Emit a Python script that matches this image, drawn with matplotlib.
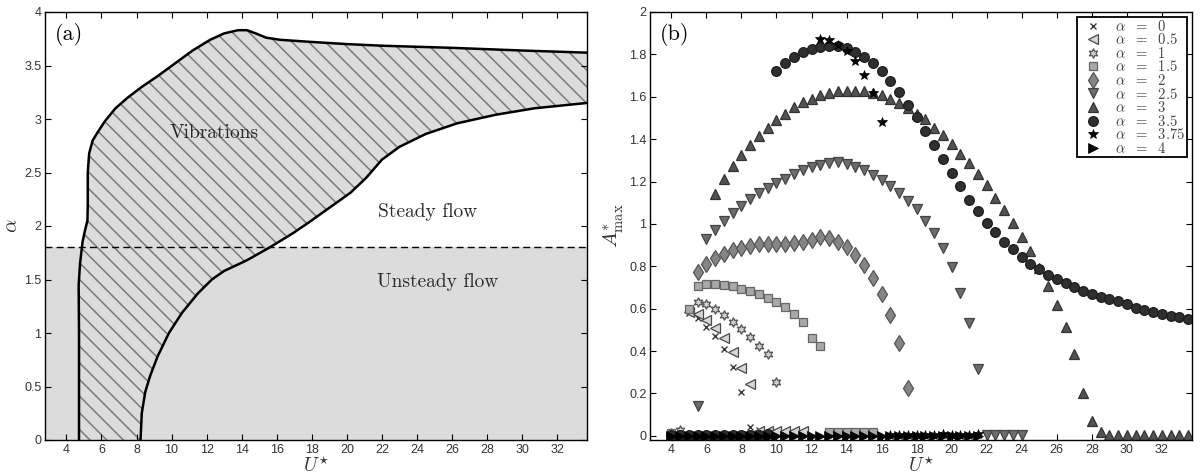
import numpy as np
import matplotlib
matplotlib.use('Agg')
from matplotlib import pyplot as plt
from matplotlib.ticker import FormatStrFormatter

plt.rcParams['mathtext.fontset'] = 'cm'
plt.rcParams['font.family'] = ['Liberation Sans', 'DejaVu Sans']
plt.rcParams['hatch.linewidth'] = 1.1

# ---------------- panel (a): stability map ----------------
# left / upper boundary of the vibration region (U*, alpha)
left_U = [4.72, 4.72, 4.70, 4.78, 4.92, 5.05, 5.20, 5.22, 5.22, 5.30, 5.50, 5.80,
          6.20, 6.80, 7.50, 8.30, 9.20, 10.2, 11.2, 12.2, 13.0, 13.8, 14.3, 14.8,
          15.4, 16.2, 18.0, 20.0, 22.0, 26.0, 30.0, 33.7]
left_a = [0.00, 1.00, 1.45, 1.65, 1.85, 1.95, 2.05, 2.20, 2.50, 2.68, 2.80, 2.88,
          2.98, 3.10, 3.20, 3.30, 3.40, 3.52, 3.64, 3.74, 3.80, 3.83, 3.83, 3.80,
          3.76, 3.74, 3.72, 3.70, 3.685, 3.665, 3.64, 3.62]
# right / lower boundary
right_U = [8.23, 8.30, 8.50, 8.78, 9.20, 9.85, 10.6, 11.5, 12.3, 13.0, 14.3, 15.6,
           16.9, 17.8, 19.0, 20.2, 21.1, 22.0, 23.0, 24.5, 26.3, 28.5, 30.7, 33.7]
right_a = [0.00, 0.25, 0.45, 0.60, 0.78, 1.00, 1.19, 1.37, 1.50, 1.58, 1.68, 1.80,
           1.93, 2.03, 2.17, 2.31, 2.45, 2.62, 2.74, 2.86, 2.96, 3.04, 3.10, 3.15]
alpha_crit = 1.8

# ---------------- panel (b): maximum amplitude ----------------
U0 = [5, 5.5, 6, 6.5, 7, 7.5, 8, 8.5, 9]
A0 = [0.578, 0.554, 0.515, 0.471, 0.41, 0.326, 0.208, 0.043, 0.028]
U05 = [5, 5.5, 6, 6.5, 7, 7.5, 8, 8.5, 9, 9.5, 10, 10.5, 11, 11.5]
A05 = [0.585, 0.576, 0.546, 0.507, 0.46, 0.397, 0.319, 0.245,
       0.022, 0.022, 0.022, 0.022, 0.022, 0.022]
U1 = [4, 4.5, 5.5, 6, 6.5, 7, 7.5, 8, 8.5, 9, 9.5, 10]
A1 = [0.012, 0.028, 0.632, 0.621, 0.60, 0.569, 0.538, 0.506, 0.467, 0.425, 0.384, 0.252]
U15 = [4, 5, 5.5, 6, 6.5, 7, 7.5, 8, 8.5, 9, 9.5, 10, 10.5, 11, 11.5, 12, 12.5,
       13, 13.5, 14, 14.5, 15, 15.5]
A15 = [0.015, 0.60, 0.706, 0.715, 0.715, 0.711, 0.706, 0.695, 0.682, 0.668, 0.651,
       0.632, 0.608, 0.577, 0.535, 0.462, 0.425,
       0.016, 0.016, 0.016, 0.016, 0.016, 0.016]
U2 = [5.5, 6, 6.5, 7, 7.5, 8, 8.5, 9, 9.5, 10, 10.5, 11, 11.5, 12, 12.5, 13, 13.5,
      14, 14.5, 15, 15.5, 16, 16.5, 17, 17.5]
A2 = [0.774, 0.813, 0.841, 0.86, 0.876, 0.887, 0.896, 0.903, 0.905, 0.905, 0.907,
      0.91, 0.915, 0.926, 0.936, 0.935, 0.915, 0.891, 0.852, 0.805, 0.745, 0.667,
      0.572, 0.44, 0.226]
U25 = [5.5, 6, 6.5, 7, 7.5, 8, 8.5, 9, 9.5, 10, 10.5, 11, 11.5, 12, 12.5, 13, 13.5,
       14, 14.5, 15, 15.5, 16, 16.5, 17, 17.5, 18, 18.5, 19, 19.5, 20, 20.5, 21, 21.5,
       22, 22.5, 23, 23.5, 24]
A25 = [0.142, 0.928, 0.97, 1.013, 1.053, 1.085, 1.116, 1.146, 1.17, 1.193, 1.214,
       1.236, 1.256, 1.269, 1.28, 1.287, 1.29, 1.283, 1.27, 1.253, 1.232, 1.208,
       1.18, 1.148, 1.11, 1.068, 1.015, 0.955, 0.885, 0.797, 0.676, 0.533, 0.313,
       0.004, 0.002, 0.002, 0.002, 0.002]
U3 = [6.5, 7, 7.5, 8, 8.5, 9, 9.5, 10, 10.5, 11, 11.5, 12, 12.5, 13, 13.5, 14, 14.5,
      15, 15.5, 16, 16.5, 17, 17.5, 18, 18.5, 19, 19.5, 20, 20.5, 21, 21.5, 22, 22.5,
      23, 23.5, 24, 24.5, 25, 25.5, 26, 26.5, 27, 27.5, 28, 28.5, 29, 29.5, 30, 30.5,
      31, 31.5, 32, 32.5, 33, 33.5]
A3 = [1.143, 1.214, 1.274, 1.324, 1.371, 1.413, 1.453, 1.489, 1.52, 1.55, 1.574,
      1.59, 1.607, 1.619, 1.627, 1.629, 1.629, 1.625, 1.617, 1.606, 1.59, 1.572,
      1.549, 1.517, 1.494, 1.453, 1.418, 1.376, 1.329, 1.285, 1.234, 1.182, 1.123,
      1.064, 1.002, 0.939, 0.873, 0.79, 0.706, 0.616, 0.514, 0.388, 0.204, 0.071,
      0.016, 0.004, 0.004, 0.004, 0.004, 0.004, 0.004, 0.004, 0.004, 0.004, 0.004]
U35 = [4, 4.5, 5, 5.5, 6, 6.5, 7, 7.5, 8, 8.5, 9, 9.5,
       10, 10.5, 11, 11.5, 12, 12.5, 13, 13.5, 14, 14.5, 15, 15.5, 16, 16.5, 17,
       17.5, 18, 18.5, 19, 19.5, 20, 20.5, 21, 21.5, 22, 22.5, 23, 23.5, 24, 24.5,
       25, 25.5, 26, 26.5, 27, 27.5, 28, 28.5, 29, 29.5, 30, 30.5, 31, 31.5, 32,
       32.5, 33, 33.5]
A35 = [0.002, 0.002, 0.002, 0.002, 0.002, 0.002, 0.002, 0.002, 0.002, 0.002, 0.004,
       0.006,
       1.72, 1.761, 1.788, 1.811, 1.827, 1.835, 1.84, 1.84, 1.83, 1.811, 1.787,
       1.758, 1.72, 1.673, 1.623, 1.563, 1.505, 1.437, 1.371, 1.305, 1.241, 1.179,
       1.115, 1.06, 1.006, 0.962, 0.915, 0.88, 0.844, 0.81, 0.785, 0.761, 0.742,
       0.723, 0.70, 0.684, 0.667, 0.656, 0.645, 0.635, 0.62, 0.605, 0.593, 0.582,
       0.574, 0.566, 0.561, 0.553]
U375 = [12.5, 13, 13.5, 14, 14.5, 15, 15.5, 16, 16.5, 17, 17.5, 18, 18.5, 19, 19.5,
        20, 20.5, 21, 21.5]
A375 = [1.874, 1.866, 1.846, 1.814, 1.769, 1.704, 1.619, 1.481, 0.003, 0.003, 0.003,
        0.003, 0.003, 0.003, 0.008, 0.003, 0.003, 0.003, 0.006]
U4 = [4, 4.5, 5, 5.5, 6, 6.5, 7, 7.5, 8, 8.5, 9, 9.5, 10, 10.5, 11, 11.5, 12, 12.5,
      13, 13.5, 14, 14.5, 15, 15.5, 16, 16.5, 17, 17.5, 18, 18.5, 19, 19.5, 20, 20.5,
      21, 21.5]
A4 = [0.0] * len(U4)

series = [
    (U0, A0, r'$\alpha\ \ =\ \ 0$', dict(marker='x', ms=5, mec='#3a3a3a', mfc='none', mew=1.0)),
    (U05, A05, r'$\alpha\ \ =\ \ 0.5$', dict(marker='<', ms=7, mec='#4a4a4a', mfc='#d6d6d6', mew=0.9)),
    (U1, A1, r'$\alpha\ \ =\ \ 1$', dict(marker=(6, 1, 0), ms=7, mec='#555555', mfc='#cfcfcf', mew=0.9)),
    (U15, A15, r'$\alpha\ \ =\ \ 1.5$', dict(marker='s', ms=6, mec='#666666', mfc='#a9a9a9', mew=0.9)),
    (U2, A2, r'$\alpha\ \ =\ \ 2$', dict(marker='d', ms=8, mec='#555555', mfc='#858585', mew=0.9)),
    (U25, A25, r'$\alpha\ \ =\ \ 2.5$', dict(marker='v', ms=7.5, mec='#444444', mfc='#6c6c6c', mew=0.9)),
    (U3, A3, r'$\alpha\ \ =\ \ 3$', dict(marker='^', ms=7.5, mec='#333333', mfc='#525252', mew=0.9)),
    (U35, A35, r'$\alpha\ \ =\ \ 3.5$', dict(marker='o', ms=7, mec='#1e1e1e', mfc='#2f2f2f', mew=0.9)),
    (U375, A375, r'$\alpha\ \ =\ \ 3.75$', dict(marker='*', ms=7, mec='black', mfc='black', mew=0.5)),
    (U4, A4, r'$\alpha\ \ =\ \ 4$', dict(marker='>', ms=6.5, mec='black', mfc='black', mew=0.5)),
]


def style_axes(ax):
    ax.tick_params(direction='in', top=True, right=True, length=4, width=0.8,
                   labelsize=9, labelcolor='#333333', pad=3)
    ax.tick_params(axis='y', pad=2.5)
    for s in ax.spines.values():
        s.set_linewidth(1.0)
        s.set_color('black')


fig = plt.figure(figsize=(12.03, 4.75), dpi=100)
W, H = 1203.0, 475.0
ax1 = fig.add_axes([45 / W, 35 / H, 542 / W, 428 / H])
ax2 = fig.add_axes([650 / W, 35 / H, 542 / W, 428 / H])

# panel (a)
xlim = (2.78, 33.7)
ax1.axhspan(0, alpha_crit, color='#dcdcdc', lw=0, zorder=0)
ax1.axhline(alpha_crit, color='black', lw=1.0, ls=(0, (5, 3)), zorder=3)
poly_U = list(left_U) + list(right_U[::-1])
poly_a = list(left_a) + list(right_a[::-1])
ax1.fill(poly_U, poly_a, facecolor='#dcdcdc', edgecolor='#7a7a7a', lw=0,
         hatch='\\\\', zorder=1)
ax1.plot(left_U, left_a, color='black', lw=1.8, zorder=4)
ax1.plot(right_U, right_a, color='black', lw=1.8, zorder=4)
tfont = dict(family='cmr10', size=14, color='#2a2a2a')
ax1.text(12.45, 2.87, 'Vibrations', ha='center', va='center', **tfont)
ax1.text(24.6, 2.13, 'Steady flow', ha='center', va='center', **tfont)
ax1.text(25.2, 1.48, 'Unsteady flow', ha='center', va='center', **tfont)
ax1.text(0.018, 0.975, '(a)', transform=ax1.transAxes, ha='left', va='top',
         family='cmr10', size=16)
ax1.set_xlim(xlim)
ax1.set_ylim(0, 4)
ax1.set_xticks(np.arange(4, 33, 2))
ax1.set_yticks(np.arange(0, 4.01, 0.5))
ax1.yaxis.set_major_formatter(FormatStrFormatter('%g'))
ax1.set_xlabel(r'$U^{\star}$', fontsize=14, labelpad=0, color='#333333')
ax1.set_ylabel(r'$\alpha$', fontsize=15, labelpad=2, color='#333333')
style_axes(ax1)

# panel (b)
for U, A, lab, kw in series:
    ax2.plot(U, A, ls='none', label=lab, **kw)
ax2.text(0.018, 0.975, '(b)', transform=ax2.transAxes, ha='left', va='top',
         family='cmr10', size=16)
ax2.set_xlim(2.78, 33.72)
ax2.set_ylim(-0.02, 2)
ax2.set_xticks(np.arange(4, 33, 2))
ax2.set_yticks(np.arange(0, 2.01, 0.2))
ax2.yaxis.set_major_formatter(FormatStrFormatter('%g'))
ax2.set_xlabel(r'$U^{\star}$', fontsize=14, labelpad=0, color='#333333')
ax2.set_ylabel(r'$A^{*}_{\mathrm{max}}$', fontsize=15, labelpad=2, color='#333333')
style_axes(ax2)
leg = ax2.legend(loc='upper right', numpoints=1, fontsize=10.5, labelspacing=-0.1,
                 handlelength=2.0, handletextpad=0.5, borderpad=0.12,
                 borderaxespad=0.35, fancybox=False, framealpha=1)
leg.get_frame().set_edgecolor('black')
leg.get_frame().set_linewidth(1.3)
for t in leg.get_texts():
    t.set_color('#444444')

fig.savefig('out.png', dpi=100)
